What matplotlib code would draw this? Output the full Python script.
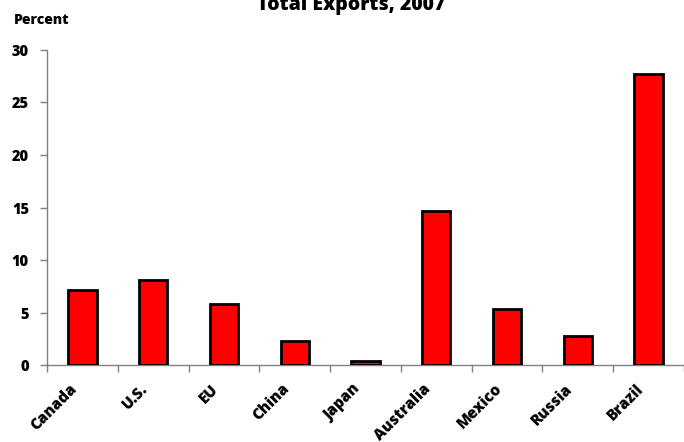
import numpy as np
import matplotlib.pyplot as plt
import matplotlib.transforms as mtransforms

countries = ['Canada', 'U.S.', 'EU', 'China', 'Japan', 'Australia', 'Mexico', 'Russia', 'Brazil']
share = [7.15, 8.1, 5.85, 2.3, 0.35, 14.7, 5.35, 2.77, 27.75]
yticks = [0, 5, 10, 15, 20, 25, 30]

plt.rcParams['font.family'] = ['Open Sans', 'DejaVu Sans']

fig = plt.figure(figsize=(6.84, 4.42), dpi=100)
ax = fig.add_axes([0.0687, 0.174, 0.9313, 0.713])

ind = np.arange(len(countries))
ax.bar(ind, share, width=0.4, color='#ff0000', edgecolor='black', linewidth=2, zorder=3)

ax.set_xlim(-0.5, len(countries) - 0.5)
ax.set_ylim(0, 30)
ax.set_yticks(yticks)
ax.set_yticklabels([str(t) for t in yticks], fontsize=10.5, fontweight=800)

# category labels, set a bit left/down of the centre like the original
ax.set_xticks([])
shift = mtransforms.ScaledTranslation(-0.13, -0.16, fig.dpi_scale_trans)
for i, c in enumerate(countries):
    ax.text(i, 0, c, transform=ax.get_xaxis_transform() + shift, rotation=45,
            ha='right', va='top', rotation_mode='anchor', fontsize=11, fontweight=800)
ax.set_xticks(np.arange(len(countries) + 1) - 0.5, minor=True)
ax.tick_params(axis='x', which='minor', length=5, color='#808080', width=1)
ax.tick_params(axis='y', length=5, color='#808080', width=1, pad=8)

for s in ['top', 'right']:
    ax.spines[s].set_visible(False)
for s in ['left', 'bottom']:
    ax.spines[s].set_color('#808080')
    ax.spines[s].set_linewidth(1)

fig.text(0.513, 0.977, 'Total Exports, 2007', ha='center', va='baseline',
         fontsize=14, fontweight=800)
fig.text(0.02, 0.955, 'Percent', ha='left', va='center', fontsize=10, fontweight=800)

plt.savefig('out.png', dpi=100)
